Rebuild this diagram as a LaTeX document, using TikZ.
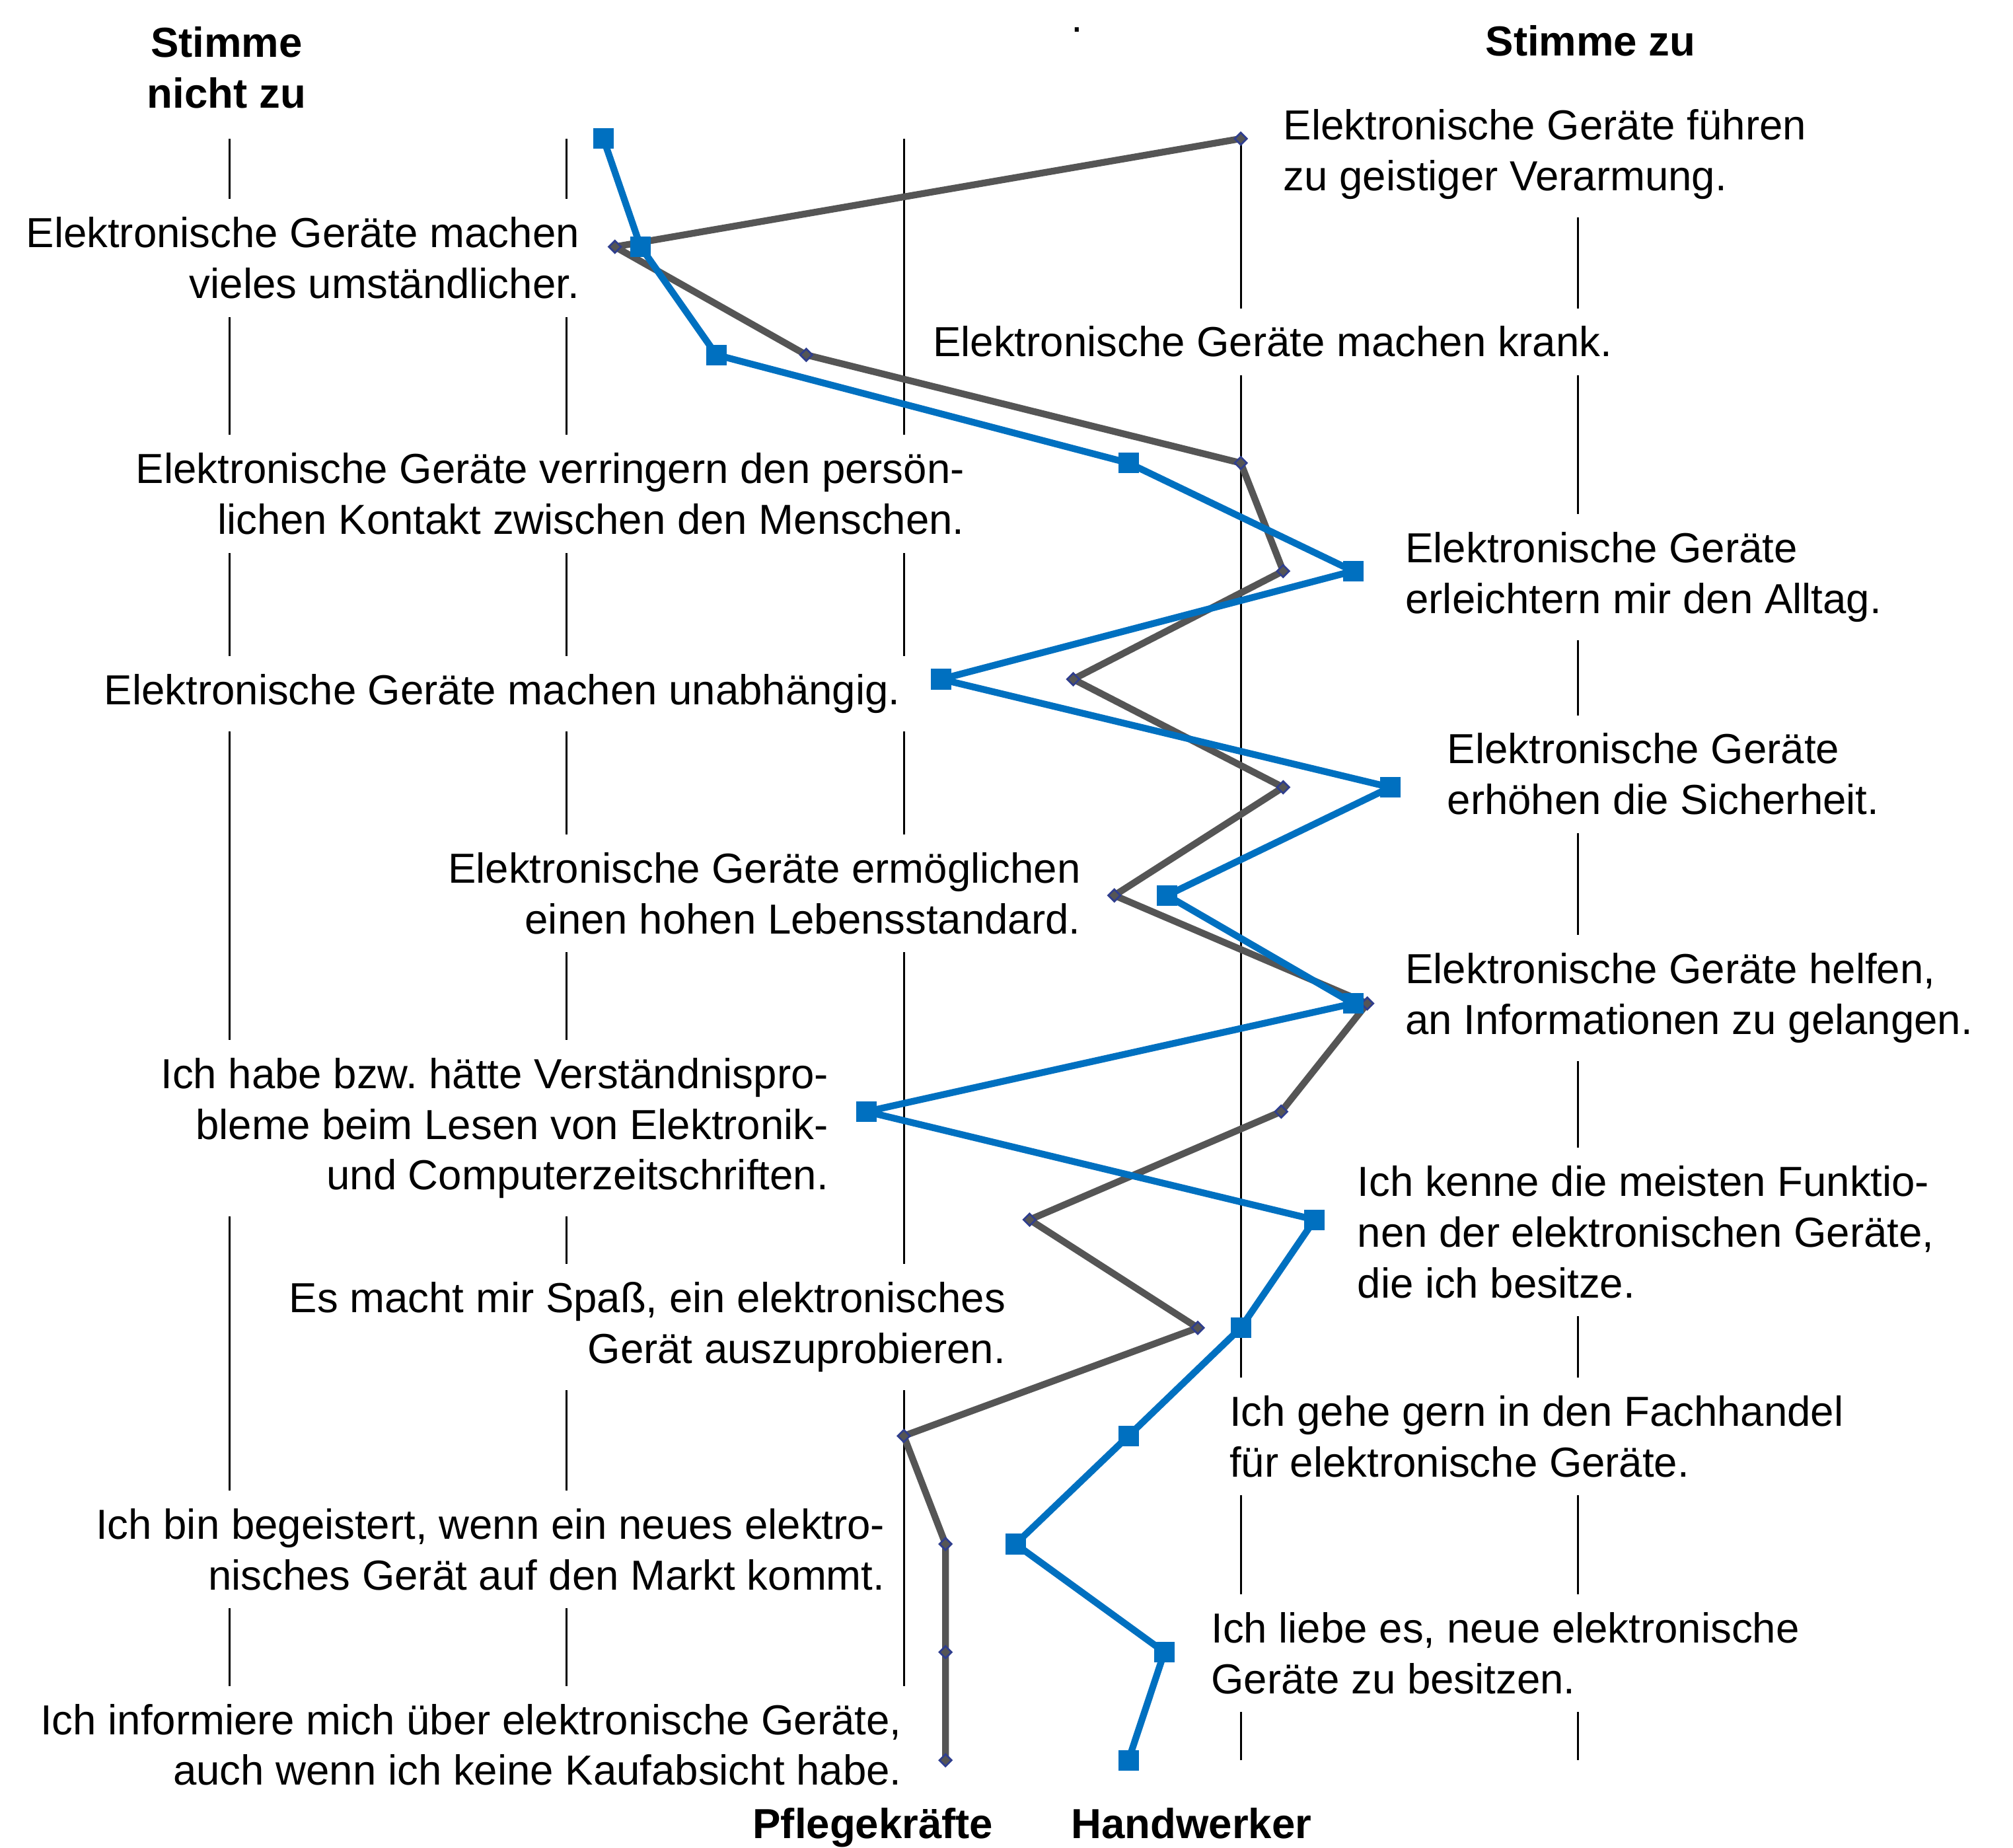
\documentclass[tikz,border=0pt]{standalone}
\usepackage{fontspec}
\setmainfont{Liberation Sans}
\usetikzlibrary{shapes.geometric}

\definecolor{hwblau}{HTML}{0070C0}
\definecolor{pfgrau}{HTML}{555555}
\definecolor{pfrand}{HTML}{2F3E8E}

\frenchspacing

\begin{document}
\begin{tikzpicture}[x=0.01cm,y=-0.01cm,
    txt/.style={font=\fontsize{9.3}{11.24}\selectfont,fill=white,inner sep=4pt},
    links/.style={txt,anchor=north east,align=right},
    rechts/.style={txt,anchor=north west,align=left},
    kopf/.style={font=\fontsize{9.3}{11.24}\selectfont\bfseries,inner sep=0pt},
    achse/.style={black,line width=0.45pt},
    pflege/.style={pfgrau,line width=1.5pt,line join=round},
    handw/.style={hwblau,line width=1.5pt,line join=round},
    raute/.style={diamond,draw=pfrand,fill=pfgrau,line width=0.4pt,inner sep=0pt,minimum size=0.1cm},
    quadrat/.style={rectangle,fill=hwblau,inner sep=0pt,minimum size=0.16cm}]
  \useasboundingbox (0,0) rectangle (1568,1439);

  \foreach \x in {179,441.5,704,966.5,1229}
    \draw[achse] (\x,108) -- (\x,1371);

  \node[kopf,align=center,anchor=north] (nein) at (176.5,20) {Stimme\\nicht zu};
  \node[kopf,anchor=base] (ja) at (1239,43.6) {Stimme zu};
  \node[font=\fontsize{9.3}{11.24}\selectfont,inner sep=0pt,anchor=base] (punkt) at (839,24.7) {.};

  \node[rechts] (t1) at (985,70.4) {Elektronische Geräte führen\\zu geistiger Verarmung.};
  \node[links] (t2) at (466,154.4) {Elektronische Geräte machen\\vieles umständlicher.};
  \node[rechts] (t3) at (712,239.4) {Elektronische Geräte machen krank.};
  \node[links] (t4) at (766,338.1) {Elektronische Geräte verringern den persön-\\lichen Kontakt zwischen den Menschen.};
  \node[rechts] (t5) at (1080,399.9) {Elektronische Geräte\\erleichtern mir den Alltag.};
  \node[links] (t6) at (716,510.4) {Elektronische Geräte machen unabhängig.};
  \node[rechts] (t7) at (1112.6,556.4) {Elektronische Geräte\\erhöhen die Sicherheit.};
  \node[links] (t8) at (856.5,649.2) {Elektronische Geräte ermöglichen\\einen hohen Lebensstandard.};
  \node[rechts] (t9) at (1080,727.7) {Elektronische Geräte helfen,\\an Informationen zu gelangen.};
  \node[links] (t10) at (660,809.2) {Ich habe bzw. hätte Verständnispro-\\bleme beim Lesen von Elektronik-\\und Computerzeitschriften.};
  \node[rechts] (t11) at (1042.6,893.4) {Ich kenne die meisten Funktio-\\nen der elektronischen Geräte,\\die ich besitze.};
  \node[links] (t12) at (798,983.9) {Es macht mir Spaß, ein elektronisches\\Gerät auszuprobieren.};
  \node[rechts] (t13) at (943,1072.4) {Ich gehe gern in den Fachhandel\\für elektronische Geräte.};
  \node[links] (t14) at (704,1160.2) {Ich bin begeistert, wenn ein neues elektro-\\nisches Gerät auf den Markt kommt.};
  \node[rechts] (t15) at (928.7,1241) {Ich liebe es, neue elektronische\\Geräte zu besitzen.};
  \node[links] (t16) at (717,1312.4) {Ich informiere mich über elektronische Geräte,\\auch wenn ich keine Kaufabsicht habe.};

  \foreach \x [count=\i] in {966.5,479,628,966.5,999.5,836,999.5,868,1065,998,802,933,704,736.5,736.5,736.5}
    \coordinate (g\i) at (\x,{108+(\i-1)*84.2});
  \foreach \x [count=\i] in {470,499,558,879,1054,733,1083,909,1054,675,1024,966.5,879,791,907,879}
    \coordinate (h\i) at (\x,{108+(\i-1)*84.2});

  \draw[pflege] (g1) \foreach \i in {2,...,16} {-- (g\i)};
  \foreach \i in {1,...,16}
    \node[raute] (gm\i) at (g\i) {};

  \draw[handw] (h1) \foreach \i in {2,...,16} {-- (h\i)};
  \foreach \i in {1,...,16}
    \node[quadrat] (hm\i) at (h\i) {};

  \node[kopf,anchor=base] (pf) at (680,1432) {Pflegekräfte};
  \node[kopf,anchor=base] (hw) at (928,1432) {Handwerker};
\end{tikzpicture}
\end{document}
